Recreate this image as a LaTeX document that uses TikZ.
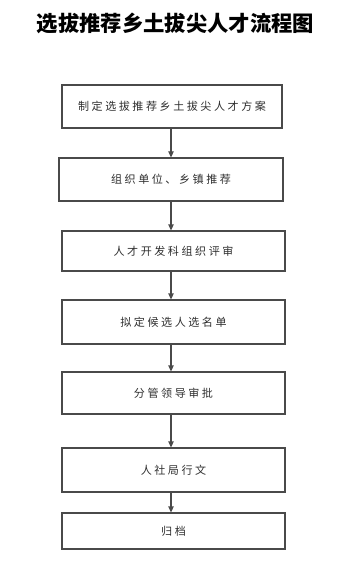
\documentclass[tikz,border=0pt]{standalone}
\usepackage{fontspec}
\newfontfamily\cjk{Noto Sans CJK SC}
\usetikzlibrary{arrows.meta}
\definecolor{boxline}{HTML}{4A4A4A}
\definecolor{boxtext}{HTML}{2E2E2E}
\newcommand{\spc}{\spaceskip=1.9pt plus 0pt minus 0pt\relax}
\tikzset{
  stepbox/.style={draw=boxline, line width=0.8pt, inner sep=0pt, font=\cjk\fontsize{8.3pt}{10pt}\selectfont\spc, text=boxtext},
  arr/.style={draw=boxline, line width=0.8pt, -{Triangle[length=4.5pt,width=4pt]}, shorten >=0pt}
}
\begin{document}
\begin{tikzpicture}[x=0.75pt,y=-0.75pt]
\useasboundingbox (0,0) rectangle (356,577);
\node[font=\cjk\bfseries\fontsize{16pt}{18pt}\selectfont] (title) at (175.5,23) {选拔推荐乡土拔尖人才流程图};
\coordinate (ax) at (171,0);
\node[stepbox, minimum width=165pt, minimum height=32.25pt] (b1) at (172,106.5) {制 定 选 拔 推 荐 乡 土 拔 尖 人 才 方 案};
\node[stepbox, minimum width=168pt, minimum height=32.25pt] (b2) at (171,179.5) {组 织 单 位 、 乡 镇 推 荐};
\node[stepbox, minimum width=167.25pt, minimum height=30pt] (b3) at (173.5,251) {人 才 开 发 科 组 织 评 审};
\node[stepbox, minimum width=167.25pt, minimum height=33pt] (b4) at (173.5,322) {拟 定 候 选 人 选 名 单};
\node[stepbox, minimum width=167.25pt, minimum height=31.5pt] (b5) at (173.5,393) {分 管 领 导 审 批};
\node[stepbox, minimum width=167.25pt, minimum height=33pt] (b6) at (173.5,470) {人 社 局 行 文};
\node[stepbox, minimum width=167.25pt, minimum height=27pt] (b7) at (173.5,531) {归 档};
\draw[arr] (b1.south -| ax) -- (b2.north -| ax);
\draw[arr] (b2.south -| ax) -- (b3.north -| ax);
\draw[arr] (b3.south -| ax) -- (b4.north -| ax);
\draw[arr] (b4.south -| ax) -- (b5.north -| ax);
\draw[arr] (b5.south -| ax) -- (b6.north -| ax);
\draw[arr] (b6.south -| ax) -- (b7.north -| ax);
\end{tikzpicture}
\end{document}
